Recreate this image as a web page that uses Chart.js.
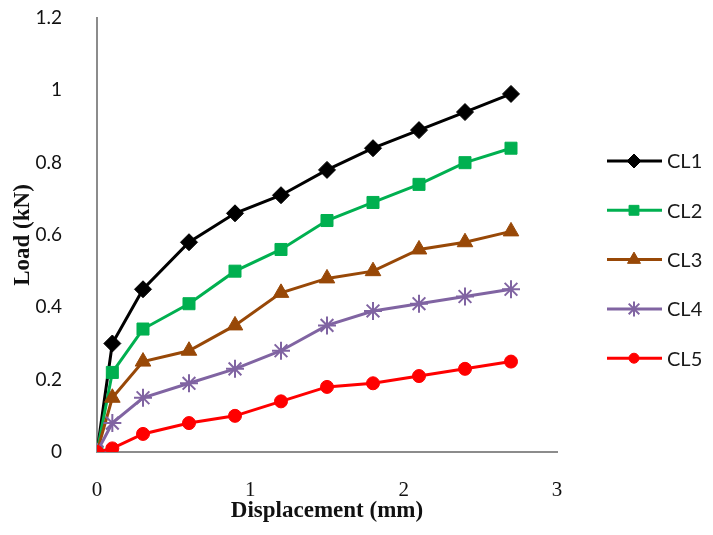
<!DOCTYPE html>
<html>
<head>
<meta charset="utf-8">
<script src="https://cdn.jsdelivr.net/npm/chart.js@4"></script>
<style>
  html, body { margin: 0; padding: 0; background: #fff; }
  #wrap { width: 713px; height: 535px; }
</style>
</head>
<body>
<div id="wrap"><canvas id="chart"></canvas></div>
<script>
// displacement values (mm)
const displacement = [0, 0.1, 0.3, 0.6, 0.9, 1.2, 1.5, 1.8, 2.1, 2.4, 2.7];

// load values (kN) per specimen
const cl1 = [0, 0.30, 0.45, 0.58, 0.66, 0.71, 0.78, 0.84, 0.89, 0.94, 0.99];
const cl2 = [0, 0.22, 0.34, 0.41, 0.50, 0.56, 0.64, 0.69, 0.74, 0.80, 0.84];
const cl3 = [0, 0.15, 0.25, 0.28, 0.35, 0.44, 0.48, 0.50, 0.56, 0.58, 0.61];
const cl4 = [0, 0.08, 0.15, 0.19, 0.23, 0.28, 0.35, 0.39, 0.41, 0.43, 0.45];
const cl5 = [0, 0.01, 0.05, 0.08, 0.10, 0.14, 0.18, 0.19, 0.21, 0.23, 0.25];

const seriesNames = ['CL1', 'CL2', 'CL3', 'CL4', 'CL5'];
const xTicks = [0, 1, 2, 3];
const yTicks = [0, 0.2, 0.4, 0.6, 0.8, 1, 1.2];

const colors = ['#000000', '#00B050', '#984807', '#8064A2', '#FF0000'];
const markers = [
    { style: 'rectRot', radius: 8.5 },
    { style: 'rect', radius: 8.5 },
    { style: 'triangle', radius: 9 },
    { style: 'star', radius: 9 },
    { style: 'circle', radius: 6.5 }
];

function toPoints(ys) {
    return displacement.map((x, i) => ({ x: x, y: ys[i] }));
}

const datasets = [cl1, cl2, cl3, cl4, cl5].map((ys, i) => ({
    label: seriesNames[i],
    data: toPoints(ys),
    borderColor: colors[i],
    backgroundColor: colors[i],
    borderWidth: 3,
    pointStyle: markers[i].style,
    pointRadius: markers[i].radius,
    pointBorderWidth: markers[i].style === 'star' ? 2 : 1,
    pointBackgroundColor: colors[i],
    pointBorderColor: colors[i],
    tension: 0,
    order: 5 - i
}));

// legend on the right: line with marker in the middle, then label
const sideLegend = {
    id: 'sideLegend',
    afterDraw(chart) {
        const ctx = chart.ctx;
        const x0 = chart.chartArea.right + 50;
        const y0 = 161;
        const gap = 49.3;
        ctx.save();
        seriesNames.forEach((name, i) => {
            const y = y0 + i * gap;
            ctx.strokeStyle = colors[i];
            ctx.fillStyle = colors[i];
            ctx.lineWidth = 3;
            ctx.beginPath();
            ctx.moveTo(x0, y);
            ctx.lineTo(x0 + 55, y);
            ctx.stroke();
            if (Chart.helpers && Chart.helpers.drawPoint) {
                ctx.lineWidth = markers[i].style === 'star' ? 2 : 1;
                Chart.helpers.drawPoint(ctx, {
                    pointStyle: markers[i].style,
                    radius: markers[i].radius - 1.5,
                    rotation: 0,
                    borderWidth: ctx.lineWidth
                }, x0 + 27, y);
            }
            ctx.fillStyle = '#1a1a1a';
            ctx.font = '20px Lato, "Open Sans", sans-serif';
            ctx.textAlign = 'left';
            ctx.textBaseline = 'middle';
            ctx.fillText(name, x0 + 60, y + 1);
        });
        ctx.restore();
    }
};

new Chart(document.getElementById('chart'), {
    type: 'line',
    data: { datasets: datasets },
    options: {
        responsive: true,
        maintainAspectRatio: false,
        animation: false,
        layout: { padding: { top: 18, right: 156, left: 0, bottom: 0 } },
        plugins: {
            legend: { display: false },
            tooltip: { enabled: false }
        },
        scales: {
            x: {
                type: 'linear',
                min: 0,
                max: 3,
                afterBuildTicks(axis) {
                    axis.ticks = xTicks.map(v => ({ value: v }));
                },
                afterFit(axis) { axis.height = 83; },
                grid: { display: false },
                border: { display: true, color: '#8c8c8c', width: 2 },
                ticks: {
                    color: '#111',
                    padding: 18,
                    maxRotation: 0,
                    font: { family: '"Liberation Serif", "DejaVu Serif", serif', size: 21 },
                    callback: v => String(v)
                },
                title: {
                    display: true,
                    text: 'Displacement (mm)',
                    color: '#111',
                    padding: { top: 0, bottom: 10 },
                    font: { family: '"Liberation Serif", "DejaVu Serif", serif', size: 23, weight: 'bold' }
                }
            },
            y: {
                type: 'linear',
                min: 0,
                max: 1.2,
                afterBuildTicks(axis) {
                    axis.ticks = yTicks.map(v => ({ value: v }));
                },
                afterFit(axis) {
                    axis.width = 97;
                    // keep the tick gap from pushing the plot down
                    axis.paddingTop = 12;
                    axis.paddingBottom = 12;
                },
                grid: { display: false },
                border: { display: true, color: '#8c8c8c', width: 2 },
                ticks: {
                    color: '#111',
                    padding: 27,
                    font: { family: 'Lato, "Open Sans", sans-serif', size: 19 },
                    callback: v => String(Number(v.toFixed(1)))
                },
                title: {
                    display: true,
                    text: 'Load (kN)',
                    color: '#111',
                    padding: { top: 9, bottom: 0 },
                    font: { family: '"Liberation Serif", "DejaVu Serif", serif', size: 23, weight: 'bold' }
                }
            }
        }
    },
    plugins: [sideLegend]
});
</script>
</body>
</html>
